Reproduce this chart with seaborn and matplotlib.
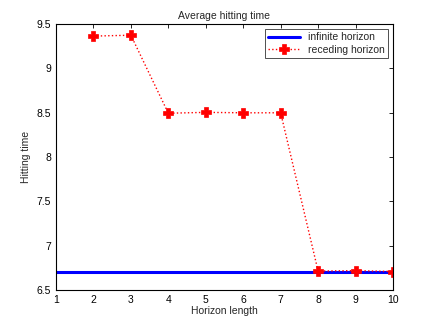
import numpy as np
import pandas as pd
import matplotlib
matplotlib.use("Agg")
import matplotlib.pyplot as plt
import seaborn as sns

# ------------ data ---------------------------------
horizon = [1, 2, 3, 4, 5, 6, 7, 8, 9, 10]
infinite_x = [1, 10]
infinite_y = [6.705, 6.705]
receding_x = [2, 3, 4, 5, 6, 7, 8, 9, 10]
receding_y = [9.365, 9.375, 8.495, 8.505, 8.50, 8.50, 6.715, 6.72, 6.71]

sns.set_style("white")
plt.rcParams["font.family"] = ["Liberation Sans", "DejaVu Sans"]
plt.rcParams["font.size"] = 7.5

fig = plt.figure(figsize=(4.34, 3.26), dpi=100)
ax = fig.add_axes([0.129, 0.110, 0.7765, 0.816])

sns.lineplot(x=infinite_x, y=infinite_y, ax=ax, color="#0000ff", linewidth=2.2,
             label="infinite horizon")
sns.lineplot(x=receding_x, y=receding_y, ax=ax, color="#ff0000", linewidth=1.0,
             linestyle=":", marker="P", markersize=6.5, markeredgewidth=0.5,
             markeredgecolor="#ff0000", markerfacecolor="#ff0000",
             label="receding horizon")

ax.set_xlim(1, 10)
ax.set_ylim(6.5, 9.5)
ax.set_xticks(horizon)
ax.set_yticks([6.5, 7, 7.5, 8, 8.5, 9, 9.5])
ax.set_yticklabels(["6.5", "7", "7.5", "8", "8.5", "9", "9.5"])
ax.tick_params(direction="in", top=True, right=True, length=3, width=0.6,
               labelsize=7.5, colors="black")
for s in ax.spines.values():
    s.set_linewidth(0.8)
    s.set_color("black")

ax.set_xlabel("Horizon length", fontsize=7.5, labelpad=1)
ax.set_ylabel("Hitting time", fontsize=7.5, labelpad=4)
ax.set_title("Average hitting time", fontsize=7.5, pad=4)

leg = ax.legend(loc="upper right", fontsize=7.5, frameon=True, fancybox=False,
                borderaxespad=0.5, handlelength=3.0, borderpad=0.3,
                labelspacing=0.2)
leg.get_frame().set_edgecolor("black")
leg.get_frame().set_linewidth(0.6)

fig.savefig("out.png", dpi=100)
